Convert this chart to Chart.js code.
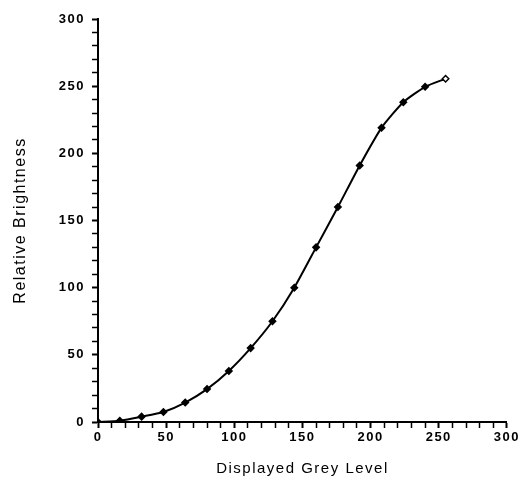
<!DOCTYPE html>
<html>
<head>
<meta charset="utf-8">
<script src="https://cdn.jsdelivr.net/npm/chart.js@4.4.1/dist/chart.umd.min.js"></script>
<style>
  html, body { margin: 0; padding: 0; background: #fff; }
  #wrap { width: 522px; height: 487px; position: relative; }
</style>
</head>
<body>
<div id="wrap"><canvas id="c" width="522" height="487"></canvas></div>
<script>
// Data
const greyLevels = [0, 16, 32, 48, 64, 80, 96, 112, 128, 144, 160, 176, 192, 208, 224, 240, 255];
const brightness = [0, 1, 4, 7.5, 14.5, 24.5, 38, 55, 75, 100, 130, 160, 191, 219, 238, 249.5, 255.5];
const xTickValues = [0, 50, 100, 150, 200, 250, 300];
const yTickValues = [0, 50, 100, 150, 200, 250, 300];
const xTitle = 'Displayed Grey Level';
const yTitle = 'Relative Brightness';

const points = greyLevels.map((g, i) => ({ x: g, y: brightness[i] }));
const lastIdx = points.length - 1;

const tickFont = { family: '"Liberation Sans", Arial, sans-serif', size: 13, weight: 'bold' };
const xTitleFont = { family: '"Liberation Sans", Arial, sans-serif', size: 15, weight: 'normal' };
const yTitleFont = { family: '"Liberation Sans", Arial, sans-serif', size: 16, weight: 'normal' };

function labelCb(v) { return xTickValues.includes(v) ? String(v) : ''; }
function ylabelCb(v) { return yTickValues.includes(v) ? String(v) : ''; }

const spacingPlugin = {
  id: 'spacing',
  beforeLayout(chart) { chart.ctx.letterSpacing = '1.5px'; },
  beforeDraw(chart) { chart.ctx.letterSpacing = '1.5px'; }
};

new Chart(document.getElementById('c'), {
  type: 'line',
  plugins: [spacingPlugin],
  data: {
    datasets: [{
      data: points,
      borderColor: '#000',
      borderWidth: 2,
      tension: 0.2,
      pointStyle: 'rectRot',
      pointRadius: 3.2,
      pointBorderWidth: 1.5,
      pointBorderColor: '#000',
      pointBackgroundColor: points.map((p, i) => i === lastIdx ? '#fff' : '#000'),
      fill: false
    }]
  },
  options: {
    responsive: false,
    animation: false,
    events: [],
    layout: { padding: { top: 19, right: 15, left: 0, bottom: 0 } },
    plugins: { legend: { display: false }, tooltip: { enabled: false } },
    scales: {
      x: {
        type: 'linear',
        min: 0, max: 300,
        border: { display: true, color: '#000', width: 2 },
        grid: {
          drawOnChartArea: false, drawTicks: true, tickLength: 6,
          tickColor: '#000',
          tickWidth: ctx => (ctx.tick && ctx.tick.value % 50 === 0) ? 2 : 1.5
        },
        ticks: {
          stepSize: 10, autoSkip: false, maxRotation: 0,
          color: '#000', font: tickFont, padding: 2,
          callback: labelCb
        },
        title: { display: true, text: xTitle, color: '#000', font: xTitleFont, padding: { top: 4, bottom: 9 } },
        afterFit: s => { s.height = 65; }
      },
      y: {
        type: 'linear',
        min: 0, max: 300,
        border: { display: true, color: '#000', width: 2 },
        grid: {
          drawOnChartArea: false, drawTicks: true, tickLength: 6,
          tickColor: '#000',
          tickWidth: ctx => (ctx.tick && ctx.tick.value % 50 === 0) ? 2 : 1.5
        },
        ticks: {
          stepSize: 10, autoSkip: false,
          color: '#000', font: tickFont, padding: 7,
          callback: ylabelCb
        },
        title: { display: true, text: yTitle, color: '#000', font: yTitleFont, padding: { top: 11, bottom: 0 } },
        afterFit: s => { s.width = 98; }
      }
    }
  }
});
</script>
</body>
</html>
